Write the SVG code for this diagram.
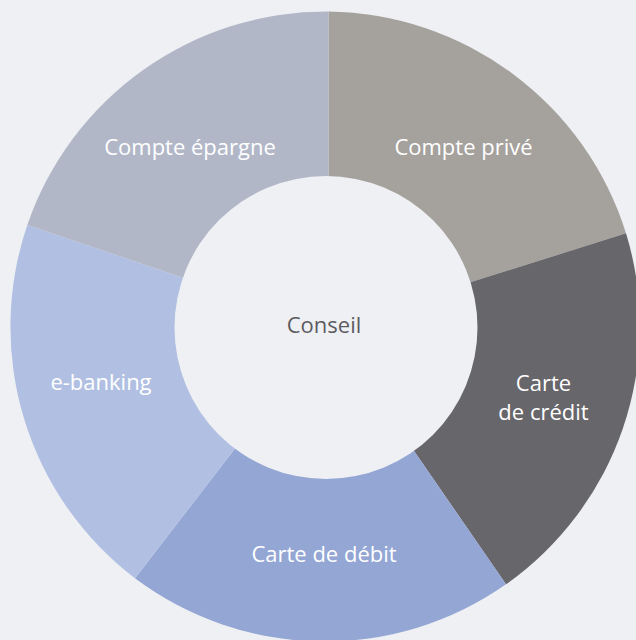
<svg xmlns="http://www.w3.org/2000/svg" width="636" height="640" viewBox="0 0 636 640">
  <style>
    .lbl { font-family: "Open Sans", "Noto Sans", "DejaVu Sans", sans-serif; font-size: 22px; fill: #ffffff; text-anchor: middle; }
    .ctr { font-family: "Open Sans", "Noto Sans", "DejaVu Sans", sans-serif; font-size: 22px; fill: #5c5b60; text-anchor: middle; }
  </style>
  <rect x="0" y="0" width="636" height="640" fill="#eff0f4"/>
  <g id="seg-compte-prive">
    <path d="M328.5 327 L328.5 11.5 A316 316 0 0 1 626 233.3 Z" fill="#a5a19d"/>
    <text class="lbl" x="463.5" y="155">Compte privé</text>
  </g>
  <g id="seg-carte-credit">
    <path d="M328.5 327 L626 233.3 A316 316 0 0 1 506 584.3 Z" fill="#67666b"/>
    <text class="lbl" x="543.5" y="391">Carte</text>
    <text class="lbl" x="543.5" y="420">de crédit</text>
  </g>
  <g id="seg-carte-debit">
    <path d="M328.5 327 L506 584.3 A316 316 0 0 1 135 578.3 Z" fill="#93a6d4"/>
    <text class="lbl" x="324" y="561.5">Carte de débit</text>
  </g>
  <g id="seg-ebanking">
    <path d="M328.5 327 L135 578.3 A316 316 0 0 1 27.3 225 Z" fill="#b1c0e2"/>
    <text class="lbl" x="101" y="390">e-banking</text>
  </g>
  <g id="seg-compte-epargne">
    <path d="M328.5 327 L27.3 225 A316 316 0 0 1 328.5 11.5 Z" fill="#b2b7c8"/>
    <text class="lbl" x="190" y="155">Compte épargne</text>
  </g>
  <g id="node-conseil">
    <circle cx="326" cy="327.5" r="151.5" fill="#eff0f4"/>
    <text class="ctr" x="324" y="333">Conseil</text>
  </g>
  <g id="connectors"></g>
</svg>
